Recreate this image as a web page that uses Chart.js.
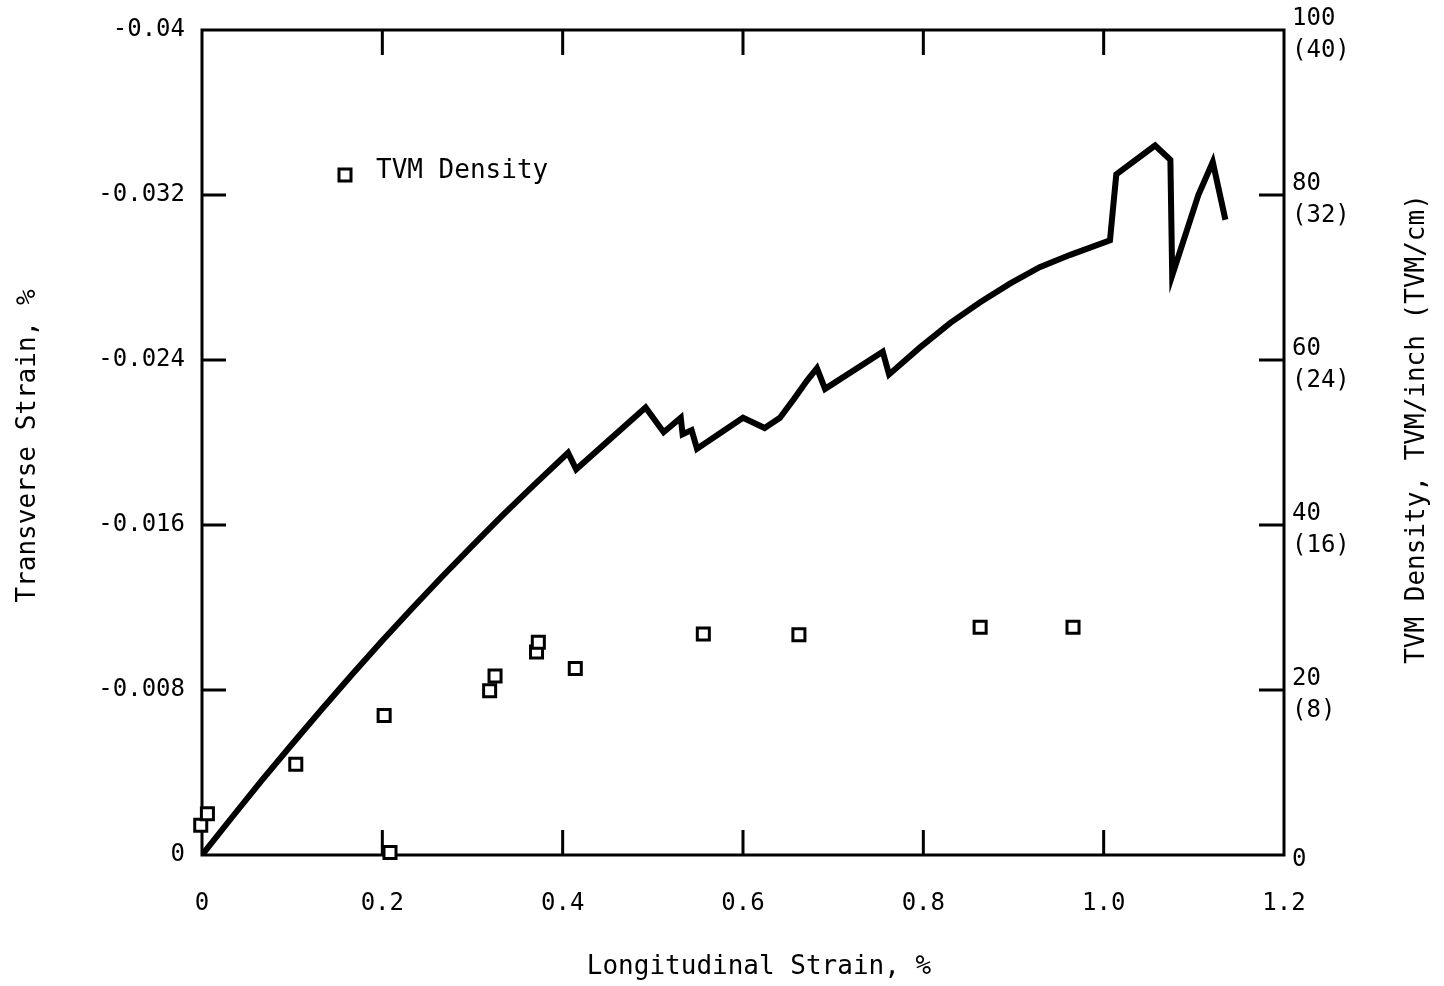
<!DOCTYPE html>
<html>
<head>
<meta charset="utf-8">
<script src="https://cdn.jsdelivr.net/npm/chart.js@4.4.1/dist/chart.umd.min.js"></script>
<style>
  html, body { margin: 0; padding: 0; background: #fff; }
  #wrap { width: 1444px; height: 986px; }
</style>
</head>
<body>
<div id="wrap"><canvas id="strainChart" width="1444" height="986"></canvas></div>
<script>
// transverse strain (%) vs longitudinal strain (%)
const strainX = [0, 0.0333, 0.0665, 0.0998, 0.1331, 0.1664, 0.1996, 0.2329, 0.2662, 0.2994, 0.3327, 0.3660,
  0.406, 0.415, 0.492, 0.512, 0.531, 0.533, 0.543, 0.549, 0.600, 0.624, 0.641, 0.658, 0.671,
  0.682, 0.691, 0.755, 0.762, 0.796, 0.830, 0.863, 0.896, 0.929, 0.963, 1.007,
  1.014, 1.057, 1.074, 1.076, 1.105, 1.121, 1.135];
const strainY = [0, -0.00183, -0.00363, -0.00537, -0.00708, -0.00875, -0.01037, -0.01195, -0.01349, -0.01498, -0.01644, -0.01785,
  -0.0195, -0.0187, -0.0217, -0.0205, -0.0212, -0.0204, -0.0206, -0.0197, -0.0212, -0.0207, -0.0212, -0.0222, -0.0230,
  -0.0236, -0.0226, -0.0244, -0.0233, -0.0246, -0.0258, -0.0268, -0.0277, -0.0285, -0.0291, -0.0298,
  -0.0330, -0.0344, -0.0337, -0.0281, -0.0320, -0.0336, -0.0308];

// TVM density (TVM/inch) vs longitudinal strain (%)
const tvmX = [-0.0014, 0.006, 0.104, 0.202, 0.2085, 0.319, 0.325, 0.371, 0.373, 0.414,
  0.556, 0.662, 0.863, 0.966];
const tvmY = [3.6, 5.0, 11.0, 16.9, 0.3, 19.9, 21.7, 24.6, 25.8, 22.6,
  26.8, 26.7, 27.6, 27.6];

const xTickLabels = ['0', '0.2', '0.4', '0.6', '0.8', '1.0', '1.2'];
const leftTickLabels = ['-0.04', '-0.032', '-0.024', '-0.016', '-0.008', '0'];
const rightTickLabels = [['0'], ['20', '(8)'], ['40', '(16)'], ['60', '(24)'], ['80', '(32)'], ['100', '(40)']];

const FONT = '"DejaVu Sans Mono", monospace';

const framePlugin = {
  id: 'frame',
  beforeDatasetsDraw(chart) {
    const { ctx, chartArea: a, scales } = chart;
    ctx.save();
    ctx.strokeStyle = '#000';
    ctx.lineWidth = 3;
    ctx.strokeRect(a.left, a.top, a.right - a.left, a.bottom - a.top);
    ctx.beginPath();
    scales.x.ticks.forEach(t => {
      const px = scales.x.getPixelForValue(t.value);
      if (px <= a.left + 2 || px >= a.right - 2) return;
      ctx.moveTo(px, a.bottom); ctx.lineTo(px, a.bottom - 25);
      ctx.moveTo(px, a.top); ctx.lineTo(px, a.top + 25);
    });
    scales.y.ticks.forEach(t => {
      const py = scales.y.getPixelForValue(t.value);
      if (py <= a.top + 2 || py >= a.bottom - 2) return;
      ctx.moveTo(a.left, py); ctx.lineTo(a.left + 24, py);
    });
    scales.y2.ticks.forEach(t => {
      const py = scales.y2.getPixelForValue(t.value);
      if (py <= a.top + 2 || py >= a.bottom - 2) return;
      ctx.moveTo(a.right, py); ctx.lineTo(a.right - 25, py);
    });
    ctx.stroke();
    ctx.restore();
  },
  afterDraw(chart) {
    const { ctx } = chart;
    ctx.save();
    ctx.fillStyle = '#000';
    ctx.font = '26px ' + FONT;
    ctx.textAlign = 'center';
    ctx.textBaseline = 'middle';
    ctx.fillText('Longitudinal Strain, %', 759, 967);
    ctx.translate(28, 446);
    ctx.rotate(-Math.PI / 2);
    ctx.fillText('Transverse Strain, %', 0, 0);
    ctx.restore();

    ctx.save();
    ctx.fillStyle = '#000';
    ctx.font = '26px ' + FONT;
    ctx.textAlign = 'center';
    ctx.textBaseline = 'middle';
    ctx.translate(1417, 429);
    ctx.rotate(-Math.PI / 2);
    ctx.fillText('TVM Density, TVM/inch (TVM/cm)', 0, 0);
    ctx.restore();

    // legend entry
    ctx.save();
    ctx.strokeStyle = '#000';
    ctx.lineWidth = 3;
    ctx.fillStyle = '#fff';
    ctx.fillRect(339, 169, 12, 12);
    ctx.strokeRect(339, 169, 12, 12);
    ctx.fillStyle = '#000';
    ctx.font = '26px ' + FONT;
    ctx.textAlign = 'left';
    ctx.textBaseline = 'middle';
    ctx.fillText(chart.data.datasets[1].label, 376, 171);
    ctx.restore();
  }
};

const noEdgePad = s => { s.paddingTop = 0; s.paddingBottom = 0; };

const ctx = document.getElementById('strainChart').getContext('2d');

const strainChart = new Chart(ctx, {
  type: 'scatter',
  data: {
    datasets: [{
      label: 'Transverse Strain',
      data: strainX.map((x, i) => ({ x: x, y: strainY[i] })),
      yAxisID: 'y',
      showLine: true,
      borderColor: '#000',
      borderWidth: 6,
      borderJoinStyle: 'miter',
      pointRadius: 0,
      tension: 0,
      fill: false,
    }, {
      label: 'TVM Density',
      data: tvmX.map((x, i) => ({ x: x, y: tvmY[i] })),
      yAxisID: 'y2',
      showLine: false,
      pointStyle: 'rect',
      pointRadius: 8.5,
      pointBorderWidth: 3,
      pointBorderColor: '#000',
      pointBackgroundColor: '#fff',
      clip: false,
    }]
  },
  options: {
    responsive: false,
    animation: false,
    devicePixelRatio: 1,
    layout: {
      padding: { top: 30, left: 0, right: 0, bottom: 0 }
    },
    plugins: {
      legend: { display: false },
      tooltip: { enabled: false }
    },
    scales: {
      x: {
        type: 'linear',
        min: 0,
        max: 1.2,
        grid: { display: false, drawTicks: false },
        border: { display: false },
        ticks: {
          stepSize: 0.2,
          padding: 34,
          color: '#000',
          font: { family: FONT, size: 24 },
          callback: v => xTickLabels[Math.round(v / 0.2)]
        },
        afterFit: s => { s.height = 131; s.paddingLeft = 0; s.paddingRight = 0; }
      },
      y: {
        type: 'linear',
        position: 'left',
        min: -0.04,
        max: 0,
        reverse: true,
        grid: { display: false, drawTicks: false },
        border: { display: false },
        ticks: {
          stepSize: 0.008,
          padding: 17,
          color: '#000',
          font: { family: FONT, size: 24 },
          callback: v => leftTickLabels[Math.round((v + 0.04) / 0.008)]
        },
        afterFit: s => { s.width = 202; noEdgePad(s); }
      },
      y2: {
        type: 'linear',
        position: 'right',
        min: 0,
        max: 100,
        grid: { display: false, drawTicks: false },
        border: { display: false },
        ticks: {
          stepSize: 20,
          padding: 8,
          labelOffset: 5,
          color: '#000',
          font: { family: FONT, size: 24, lineHeight: 1.35 },
          callback: v => rightTickLabels[Math.round(v / 20)]
        },
        afterFit: s => { s.width = 160; noEdgePad(s); }
      }
    }
  },
  plugins: [framePlugin]
});
</script>
</body>
</html>
